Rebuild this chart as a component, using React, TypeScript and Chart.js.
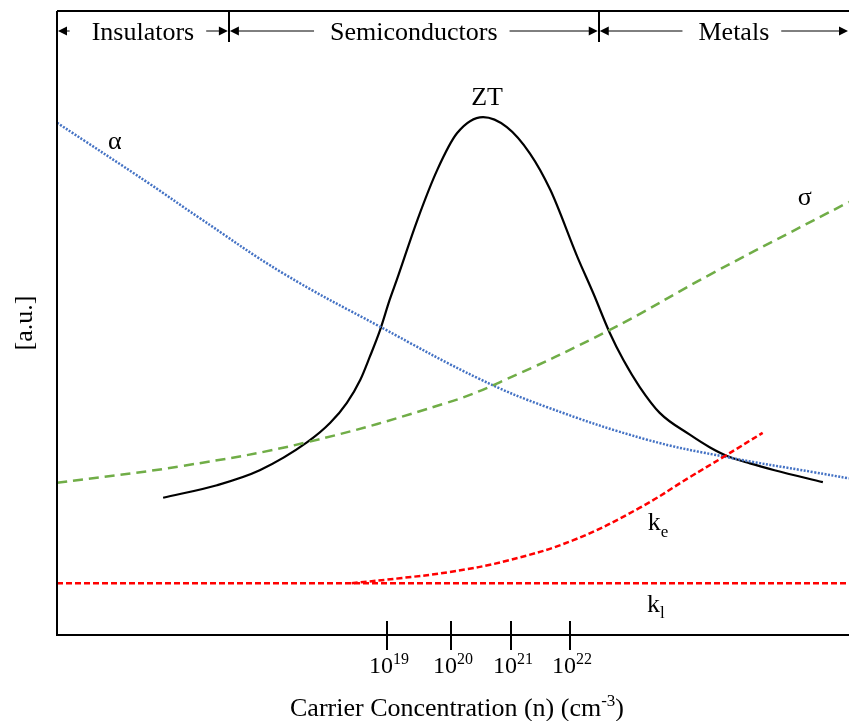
import React, { useEffect, useRef } from 'react';
import { Chart, registerables } from 'chart.js';

Chart.register(...registerables);

// Schematic x position (arbitrary units, 0..100) and values in arbitrary units [a.u.]
const ztX = [13.4, 20.2, 25.6, 31.6, 34.5, 36.6, 38.3, 39.5, 40.8, 42.0, 42.9, 45.5, 48.0, 50.5, 53.8, 56.8, 59.7, 62.3, 65.7, 67.7, 69.8, 71.5, 73.6, 76.1, 79.9, 82.4, 84.6, 87.5, 90.6, 96.7];
const ztY = [22.0, 24.0, 26.4, 30.9, 34.0, 37.2, 40.9, 44.6, 48.9, 53.7, 56.9, 66.5, 74.5, 80.4, 83.0, 81.4, 77.2, 71.3, 60.6, 54.8, 48.4, 44.1, 39.7, 35.6, 32.1, 30.1, 28.7, 27.5, 26.4, 24.5];

const alphaX = [0, 11.7, 17.8, 28.5, 40.8, 53.4, 61.9, 74.5, 84.6, 95.5, 100];
const alphaY = [82.1, 72.3, 67.0, 58.0, 49.4, 41.0, 36.5, 31.3, 28.5, 26.1, 25.1];

const sigmaX = [0, 15.9, 31.6, 49.2, 55.9, 69.8, 82.8, 100];
const sigmaY = [24.4, 27.1, 30.9, 37.2, 40.5, 48.9, 58.0, 69.4];

const keX = [37.2, 43.3, 49.6, 56.8, 65.2, 73.6, 79.9, 84.1, 89.1];
const keY = [8.3, 9.1, 10.1, 11.9, 15.2, 20.4, 25.3, 28.5, 32.4];

const klX = [0, 100];
const klY = [8.3, 8.3];

// x-axis ticks (carrier concentration, cm^-3)
const tickPos = [41.7, 49.7, 57.3, 64.8];
const tickBase = ['10', '10', '10', '10'];
const tickExp = ['19', '20', '21', '22'];

// material regions along the x axis
const regionNames = ['Insulators', 'Semiconductors', 'Metals'];
const regionBounds = [0, 21.7, 68.4, 100];

const FONT = '"Liberation Serif", "Times New Roman", serif';

const toPts = (xs: number[], ys: number[]) => xs.map((x, i) => ({ x, y: ys[i] }));

function drawSup(ctx: CanvasRenderingContext2D, parts: { t: string; s?: boolean; sub?: boolean }[], cx: number, baseline: number, size: number) {
  const small = Math.round(size * 0.65);
  let total = 0;
  const widths = parts.map((p) => {
    ctx.font = `${p.s || p.sub ? small : size}px ${FONT}`;
    const w = ctx.measureText(p.t).width;
    total += w;
    return w;
  });
  let x = cx - total / 2;
  ctx.textAlign = 'left';
  ctx.textBaseline = 'alphabetic';
  parts.forEach((p, i) => {
    ctx.font = `${p.s || p.sub ? small : size}px ${FONT}`;
    const dy = p.s ? -size * 0.38 : p.sub ? size * 0.25 : 0;
    ctx.fillText(p.t, x, baseline + dy);
    x += widths[i];
  });
}

function arrowHead(ctx: CanvasRenderingContext2D, x: number, y: number, dir: number) {
  ctx.beginPath();
  ctx.moveTo(x, y);
  ctx.lineTo(x - dir * 9, y - 4.5);
  ctx.lineTo(x - dir * 9, y + 4.5);
  ctx.closePath();
  ctx.fill();
}

const schematicPlugin = {
  id: 'schematic',
  afterDraw(chart: any) {
    const { ctx, chartArea: a, scales } = chart;
    const xs = scales.x;
    const ys = scales.y;
    ctx.save();
    ctx.strokeStyle = '#000';
    ctx.fillStyle = '#000';

    // axes and top frame
    ctx.lineWidth = 2;
    ctx.beginPath();
    ctx.moveTo(a.left, a.top);
    ctx.lineTo(a.left, a.bottom);
    ctx.lineTo(a.right, a.bottom);
    ctx.moveTo(a.left, a.top);
    ctx.lineTo(a.right, a.top);
    ctx.stroke();

    // ticks and labels
    tickPos.forEach((v, i) => {
      const px = Math.round(xs.getPixelForValue(v));
      ctx.lineWidth = 2;
      ctx.beginPath();
      ctx.moveTo(px, a.bottom - 14);
      ctx.lineTo(px, a.bottom + 15);
      ctx.stroke();
      drawSup(ctx, [{ t: tickBase[i] }, { t: tickExp[i], s: true }], px + 2, a.bottom + 38, 24);
    });

    // x title
    drawSup(
      ctx,
      [{ t: 'Carrier Concentration (n) (cm' }, { t: '-3', s: true }, { t: ')' }],
      (a.left + a.right) / 2 + 4,
      a.bottom + 81,
      26
    );

    // y title
    ctx.save();
    ctx.translate(25, (a.top + a.bottom) / 2);
    ctx.rotate(-Math.PI / 2);
    ctx.font = `26px ${FONT}`;
    ctx.textAlign = 'center';
    ctx.textBaseline = 'middle';
    ctx.fillText('[a.u.]', 0, 0);
    ctx.restore();

    // header regions
    const ay = a.top + 20;
    regionNames.forEach((name, i) => {
      const x0 = xs.getPixelForValue(regionBounds[i]) + 1;
      const x1 = Math.min(xs.getPixelForValue(regionBounds[i + 1]) - 1, chart.width - 1);
      const cx = (x0 + x1) / 2 + (i === 2 ? 10 : 0);
      ctx.font = `26px ${FONT}`;
      const w = ctx.measureText(name).width;
      ctx.textAlign = 'center';
      ctx.textBaseline = 'alphabetic';
      ctx.fillText(name, cx, ay + 9);
      const gapL = i === 0 ? 22 : 16;
      const gapR = 12;
      ctx.lineWidth = 1;
      ctx.beginPath();
      ctx.moveTo(x0 + 4, ay);
      ctx.lineTo(cx - w / 2 - gapL, ay);
      ctx.moveTo(cx + w / 2 + gapR, ay);
      ctx.lineTo(x1 - 4, ay);
      ctx.stroke();
      arrowHead(ctx, x0, ay, -1);
      arrowHead(ctx, x1, ay, 1);
      if (i > 0) {
        ctx.lineWidth = 2;
        ctx.beginPath();
        ctx.moveTo(Math.round(x0 - 1), a.top);
        ctx.lineTo(Math.round(x0 - 1), a.top + 31);
        ctx.stroke();
      }
    });

    // curve labels
    const px = (v: number) => xs.getPixelForValue(v);
    const py = (v: number) => ys.getPixelForValue(v);
    ctx.font = `26px ${FONT}`;
    ctx.textAlign = 'center';
    ctx.textBaseline = 'alphabetic';
    ctx.fillText('ZT', px(54.3), py(84.9));
    ctx.fillText('\u03B1', px(7.3), py(77.9));
    ctx.fillText('\u03C3', px(94.4), py(68.9));
    drawSup(ctx, [{ t: 'k' }, { t: 'e', sub: true }], px(75.9), py(16.8), 26);
    drawSup(ctx, [{ t: 'k' }, { t: 'l', sub: true }], px(75.6), py(3.7), 26);

    ctx.restore();
  },
};

export default function App() {
  const ref = useRef<HTMLCanvasElement | null>(null);
  useEffect(() => {
    if (!ref.current) return;
    const common = { pointRadius: 0, fill: false, cubicInterpolationMode: 'monotone' as const, borderWidth: 2.5 };
    const smooth = { pointRadius: 0, fill: false, tension: 0.4, borderWidth: 2.5 };
    const chart = new Chart(ref.current, {
      type: 'line',
      data: {
        datasets: [
          { ...common, label: 'kl', data: toPts(klX, klY), borderColor: '#FF0000', borderDash: [6, 3] },
          { ...smooth, label: 'ke', data: toPts(keX, keY), borderColor: '#FF0000', borderDash: [6, 3] },
          { ...smooth, label: 'sigma', data: toPts(sigmaX, sigmaY), borderColor: '#70AD47', borderDash: [10, 6] },
          { ...smooth, label: 'alpha', data: toPts(alphaX, alphaY), borderColor: '#4472C4', borderDash: [2, 1.5] },
          { ...common, label: 'ZT', data: toPts(ztX, ztY), borderColor: '#000000', borderWidth: 2.2 },
        ],
      },
      options: {
        animation: false,
        responsive: false,
        maintainAspectRatio: false,
        layout: { padding: { left: 57, right: 0, top: 11, bottom: 86 } },
        plugins: { legend: { display: false }, tooltip: { enabled: false } },
        scales: {
          x: { type: 'linear', min: 0, max: 100, display: false },
          y: { type: 'linear', min: 0, max: 100, display: false },
        },
      },
      plugins: [schematicPlugin],
    });
    return () => chart.destroy();
  }, []);
  return (
    <div style={{ position: 'absolute', left: 0, top: 0, width: 849, height: 721, background: '#fff' }}>
      <canvas ref={ref} width={849} height={721} style={{ display: 'block', width: 849, height: 721 }} />
    </div>
  );
}
